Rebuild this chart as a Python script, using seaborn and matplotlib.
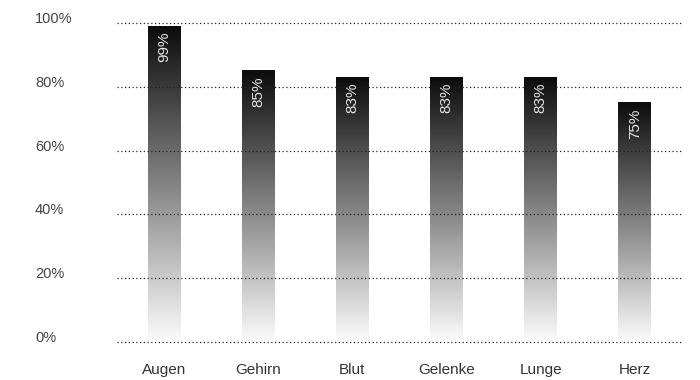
import numpy as np
import pandas as pd
import matplotlib
matplotlib.use("Agg")
import matplotlib.pyplot as plt
import seaborn as sns
from matplotlib.colors import LinearSegmentedColormap

categories = ["Augen", "Gehirn", "Blut", "Gelenke", "Lunge", "Herz"]
values = [99, 85, 83, 83, 83, 75]
value_labels = ["99%", "85%", "83%", "83%", "83%", "75%"]
yticks = [0, 20, 40, 60, 80, 100]
ytick_labels = ["0%", "20%", "40%", "60%", "80%", "100%"]

sns.set_theme(style="white")
plt.rcParams["font.family"] = ["Liberation Sans", "DejaVu Sans"]

df = pd.DataFrame({"cat": categories, "val": values})

fig = plt.figure(figsize=(7, 3.8), dpi=100)
ax = fig.add_axes([117 / 700, 38 / 380, (682 - 117) / 700, (342 - 23) / 380])

sns.barplot(data=df, x="cat", y="val", ax=ax, width=0.35, color="black", zorder=2)
ax.set_xlim(-0.5, len(categories) - 0.5)
ax.set_ylim(0, 100)

cmap = LinearSegmentedColormap.from_list("g", ["#fafafa", "#0c0c0c"])
grad = np.linspace(0, 1, 256).reshape(-1, 1)
for p in ax.patches:
    x0, y0 = p.get_x(), p.get_y()
    w, h = p.get_width(), p.get_height()
    im = ax.imshow(grad, cmap=cmap, origin="lower", aspect="auto",
                   extent=[x0, x0 + w, y0 + 0.6, y0 + h], zorder=2,
                   interpolation="bilinear")
    p.set_alpha(0)
ax.set_xlim(-0.5, len(categories) - 0.5)
ax.set_ylim(0, 100)

for i, (v, lab) in enumerate(zip(values, value_labels)):
    ax.annotate(lab, xy=(i, v), xytext=(0, -4), textcoords="offset points",
                rotation=90, ha="center", va="top", color="#e6e6e6", fontsize=11, zorder=5)

for s in ax.spines.values():
    s.set_visible(False)
ax.set_yticks(yticks)
ax.set_yticklabels(ytick_labels)
ax.set_axisbelow(False)
ax.yaxis.grid(True, linestyle=(0, (1, 2)), color="#222222", linewidth=0.9)
for gl in ax.get_ygridlines():
    gl.set_clip_on(False)
    gl.set_zorder(4)
ax.xaxis.grid(False)
ax.tick_params(axis="y", length=0, pad=59, labelsize=10.5, labelcolor="#444444")
ax.tick_params(axis="x", length=0, pad=15, labelsize=11, labelcolor="#333333")
for t in ax.get_yticklabels():
    t.set_horizontalalignment("left")
    t.set_verticalalignment("baseline")
ax.set_xlabel("")
ax.set_ylabel("")

fig.savefig("out.png", dpi=100)
